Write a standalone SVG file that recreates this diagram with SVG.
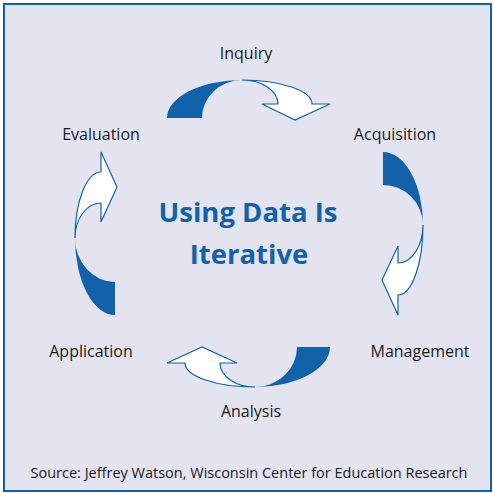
<svg xmlns="http://www.w3.org/2000/svg" width="493" height="493" viewBox="0 0 493 493">
  <style>
    .frame { fill: #E4E4F0; stroke: #1162A9; stroke-width: 2; }
    .tail { fill: #1162A9; stroke: none; }
    .head { fill: #FFFFFF; stroke: #1162A9; stroke-width: 1.2; stroke-linejoin: miter; }
    .label { font-family: "Open Sans", "Noto Sans", "DejaVu Sans", sans-serif; font-size: 16px; fill: #1A1A1A; text-anchor: middle; }
    .title { font-family: "Open Sans", "Noto Sans", "DejaVu Sans", sans-serif; font-size: 27.5px; font-weight: bold; fill: #1162A9; text-anchor: middle; }
    .source { font-family: "Open Sans", "Noto Sans", "DejaVu Sans", sans-serif; font-size: 14.5px; fill: #1A1A1A; text-anchor: middle; }
  </style>

  <rect class="frame" x="4" y="4" width="487" height="487"/>

  <!-- cycle arrows: a solid tail twisting into an outlined head -->
  <g id="connectors">
    <g id="arrow-inquiry-acquisition">
      <path class="tail" d="M167,118 A75,38 0 0 1 242,80 A40,38 0 0 0 202,118 Z"/>
      <path class="head" d="M242,80 A70,24 0 0 1 312,104 L330,104 L295,120 L262,104 L278,104 A36,24 0 0 0 242,80 Z"/>
    </g>
    <g id="arrow-acquisition-management">
      <path class="tail" d="M383,152 A40,73 0 0 1 423,225 A40,40 0 0 0 383,185 Z"/>
      <path class="head" d="M423,225 A25,70 0 0 1 398,295 L398,315 L382,280 L398,246 L398,263 A25,38 0 0 0 423,225 Z"/>
    </g>
    <g id="arrow-management-application">
      <path class="tail" d="M330,347 A75,40 0 0 1 255,387 A42,40 0 0 0 297,347 Z"/>
      <path class="head" d="M255,387 A70,24 0 0 1 185,363 L167,363 L202,347 L237,363 L220,363 A35,24 0 0 0 255,387 Z"/>
    </g>
    <g id="arrow-application-inquiry">
      <path class="tail" d="M115,315 A40,77 0 0 1 75,238 A40,44 0 0 0 115,282 Z"/>
      <path class="head" d="M75,238 A26,66 0 0 1 101,172 L101,152 L117,187 L101,222 L101,203 A26,35 0 0 0 75,238 Z"/>
    </g>
  </g>

  <g id="inquiry"><text class="label" x="246" y="59">Inquiry</text></g>
  <g id="acquisition"><text class="label" x="395" y="140">Acquisition</text></g>
  <g id="management"><text class="label" x="420" y="357">Management</text></g>
  <g id="analysis"><text class="label" x="251" y="417">Analysis</text></g>
  <g id="application"><text class="label" x="91" y="357">Application</text></g>
  <g id="evaluation"><text class="label" x="101" y="140">Evaluation</text></g>

  <g id="title">
    <text class="title" x="248" y="222">Using Data Is</text>
    <text class="title" x="249" y="264">Iterative</text>
  </g>

  <text class="source" x="249" y="478">Source: Jeffrey Watson, Wisconsin Center for Education Research</text>
</svg>
